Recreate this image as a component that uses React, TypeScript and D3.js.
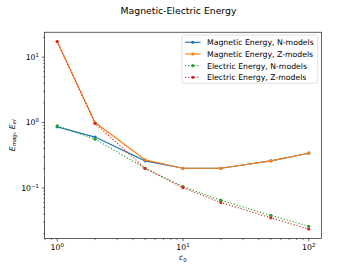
import React from "react";
import * as d3 from "d3";

const c0 = [1, 2, 5, 10, 20, 50, 100];
const magN = [0.86, 0.6, 0.26, 0.2, 0.2, 0.26, 0.34];
const magZ = [17.3, 1.0, 0.27, 0.2, 0.2, 0.26, 0.34];
const elN = [0.89, 0.557, 0.2, 0.105, 0.065, 0.038, 0.026];
const elZ = [17.3, 0.97, 0.2, 0.101, 0.06, 0.035, 0.0235];
const seriesNames = [
  "Magnetic Energy, N-models",
  "Magnetic Energy, Z-models",
  "Electric Energy, N-models",
  "Electric Energy, Z-models",
];
const colors = ["#1f77b4", "#ff7f0e", "#2ca02c", "#d62728"];
const dotted = [false, false, true, true];
const xMajor = [0, 1, 2];
const yMajor = [-1, 0, 1];

const W = 357, H = 268;
const L = 44.6, R = 321.3, T = 32.2, B = 238.5;
const FONT = "DejaVu Sans, sans-serif";
const FS = 7.75;
const LW = 1.16;

function logExtent(vals: number[]) {
  const lo = Math.log10(d3.min(vals)!), hi = Math.log10(d3.max(vals)!);
  const m = (hi - lo) * 0.05;
  return [Math.pow(10, lo - m), Math.pow(10, hi + m)];
}

export default function App() {
  const all = [magN, magZ, elN, elZ];
  const x = d3.scaleLog().domain(logExtent(c0)).range([L, R]);
  const y = d3.scaleLog().domain(logExtent(all.flat())).range([B, T]);
  const line = d3.line<number>();

  const minor = (sc: any) => {
    const [a, b] = sc.domain();
    const out: number[] = [];
    for (let e = Math.floor(Math.log10(a)) - 1; e <= Math.ceil(Math.log10(b)); e++) {
      for (let k = 2; k <= 9; k++) {
        const v = k * Math.pow(10, e);
        if (v >= a && v <= b) out.push(v);
      }
    }
    return out;
  };

  const expLabel = (e: number) => (e < 0 ? "\u2212" + Math.abs(e) : String(e));

  const legX = 182, legY = 35, legW = 135.7, legH = 48.3;
  const rowY = [42.3, 54, 65.7, 77.3];

  return (
    <svg width={W} height={H} style={{ position: "absolute", left: 0, top: 0 }} fontFamily={FONT}>
      <rect x={0} y={0} width={W} height={H} fill="#fff" />
      <text x={W / 2} y={14} textAnchor="middle" fontSize={9.3} fill="#000">
        Magnetic-Electric Energy
      </text>
      <defs>
        <clipPath id="clip">
          <rect x={L} y={T} width={R - L} height={B - T} />
        </clipPath>
      </defs>
      <g clipPath="url(#clip)">
        {all.map((vals, i) => {
          const pts = c0.map((c, j) => [x(c), y(vals[j])] as [number, number]);
          return (
            <g key={i}>
              <path
                d={line(pts as any)!}
                fill="none"
                stroke={colors[i]}
                strokeWidth={LW}
                strokeDasharray={dotted[i] ? `${LW} ${LW * 1.65}` : undefined}
              />
              {pts.map((p, j) => (
                <circle key={j} cx={p[0]} cy={p[1]} r={1.6} fill={colors[i]} />
              ))}
            </g>
          );
        })}
      </g>
      {/* axes frame */}
      <rect x={L} y={T} width={R - L} height={B - T} fill="none" stroke="#000" strokeWidth={0.62} />
      {/* x ticks */}
      {xMajor.map((e) => {
        const px = x(Math.pow(10, e));
        return (
          <g key={"xm" + e}>
            <line x1={px} x2={px} y1={B} y2={B + 2.7} stroke="#000" strokeWidth={0.62} />
            <text x={px} y={250.3} textAnchor="middle" fontSize={FS} fill="#000">
              10<tspan fontSize={FS * 0.7} dy={-3.2}>{expLabel(e)}</tspan>
            </text>
          </g>
        );
      })}
      {minor(x).map((v, i) => (
        <line key={"xn" + i} x1={x(v)} x2={x(v)} y1={B} y2={B + 1.55} stroke="#000" strokeWidth={0.48} />
      ))}
      {/* y ticks */}
      {yMajor.map((e) => {
        const py = y(Math.pow(10, e));
        return (
          <g key={"ym" + e}>
            <line x1={L} x2={L - 2.7} y1={py} y2={py} stroke="#000" strokeWidth={0.62} />
            <text x={L - 5.6} y={py + 2.8} textAnchor="end" fontSize={FS} fill="#000">
              10<tspan fontSize={FS * 0.7} dy={-3.2}>{expLabel(e)}</tspan>
            </text>
          </g>
        );
      })}
      {minor(y).map((v, i) => (
        <line key={"yn" + i} x1={L} x2={L - 1.55} y1={y(v)} y2={y(v)} stroke="#000" strokeWidth={0.48} />
      ))}
      {/* axis labels */}
      <text x={(L + R) / 2} y={260} textAnchor="middle" fontSize={FS} fill="#000" fontStyle="italic">
        c<tspan fontSize={FS * 0.7} dy={1.8} fontStyle="normal">0</tspan>
      </text>
      <text
        transform={`translate(14.5, ${(T + B) / 2}) rotate(-90)`}
        textAnchor="middle"
        fontSize={FS}
        fill="#000"
        fontStyle="italic"
      >
        E<tspan fontSize={FS * 0.7} dy={1.8}>mag</tspan>
        <tspan dy={-1.8} fontStyle="normal">, </tspan>
        <tspan>E</tspan>
        <tspan fontSize={FS * 0.7} dy={1.8}>el</tspan>
      </text>
      {/* legend */}
      <rect x={legX} y={legY} width={legW} height={legH} rx={1.5} fill="#fff" fillOpacity={0.8} stroke="#cccccc" strokeWidth={0.62} />
      {seriesNames.map((name, i) => {
        const yy = rowY[i];
        return (
          <g key={"lg" + i}>
            <line
              x1={185.1}
              x2={200.6}
              y1={yy}
              y2={yy}
              stroke={colors[i]}
              strokeWidth={LW}
              strokeDasharray={dotted[i] ? `${LW} ${LW * 1.65}` : undefined}
            />
            <circle cx={192.85} cy={yy} r={1.6} fill={colors[i]} />
            <text x={207} y={yy + 2.8} fontSize={FS} fill="#000">
              {name}
            </text>
          </g>
        );
      })}
    </svg>
  );
}
